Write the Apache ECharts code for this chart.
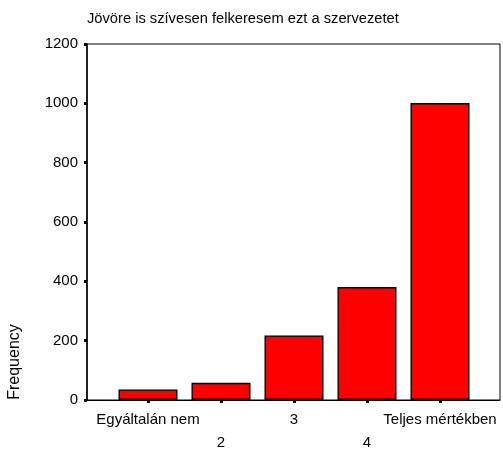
<!DOCTYPE html>
<html>
<head>
<meta charset="utf-8">
<script src="https://cdn.jsdelivr.net/npm/echarts@6/dist/echarts.min.js"></script>
<style>
  html, body { margin: 0; padding: 0; background: #fff; }
  #main { width: 503px; height: 454px; }
</style>
</head>
<body>
<div id="main"></div>
<script>
// answer categories and their counts
var categories = ['Egyáltalán nem', '2', '3', '4', 'Teljes mértékben'];
var positions = [1, 2, 3, 4, 5];
var frequency = [35, 58, 217, 381, 1001];
var yTicks = [0, 200, 400, 600, 800, 1000, 1200];

var chart = echarts.init(document.getElementById('main'));

var font = 'Arial, "Liberation Sans", sans-serif';

var barData = positions.map(function (p, i) { return [p, frequency[i]]; });

option = {
    animation: false,
    title: {
        text: 'Jövöre is szívesen felkeresem ezt a szervezetet',
        left: 82,
        top: 6,
        textStyle: { fontFamily: font, fontSize: 14.7, fontWeight: 'normal', color: '#000' }
    },
    grid: {
        left: 87, right: 3, top: 44, bottom: 51,
        show: true, borderColor: '#000', borderWidth: 1
    },
    xAxis: {
        type: 'value',
        min: 1 - 61 / 73,
        max: 5 + 60 / 73,
        splitLine: { show: false },
        axisLine: { lineStyle: { color: '#000', width: 1 } },
        axisTick: { customValues: positions, length: 3, lineStyle: { color: '#000', width: 3 } },
        axisLabel: {
            customValues: positions,
            fontFamily: font, fontSize: 15, color: '#000', margin: 8,
            lineHeight: 23,
            formatter: function (v) {
                var i = positions.indexOf(Math.round(v));
                return i % 2 === 1 ? '\n' + categories[i] : categories[i];
            }
        }
    },
    yAxis: {
        type: 'value',
        min: yTicks[0],
        max: yTicks[yTicks.length - 1],
        interval: yTicks[1] - yTicks[0],
        splitLine: { show: false },
        axisLine: { show: true, lineStyle: { color: '#000', width: 1.5 } },
        axisTick: { show: true, length: 3, lineStyle: { color: '#000', width: 3 } },
        axisLabel: {
            fontFamily: font, fontSize: 15, color: '#000', margin: 9,
            formatter: function (v) { return String(v); }
        }
    },
    graphic: [{
        type: 'text',
        x: 15,
        y: 362,
        rotation: Math.PI / 2,
        style: {
            text: 'Frequency',
            font: '16px ' + font,
            fill: '#000',
            align: 'center',
            verticalAlign: 'middle'
        }
    }],
    series: [{
        type: 'bar',
        data: barData,
        barWidth: 59,
        itemStyle: { color: '#ff0000', borderColor: '#000', borderWidth: 1.5 }
    }]
};

chart.setOption(option);
</script>
</body>
</html>
